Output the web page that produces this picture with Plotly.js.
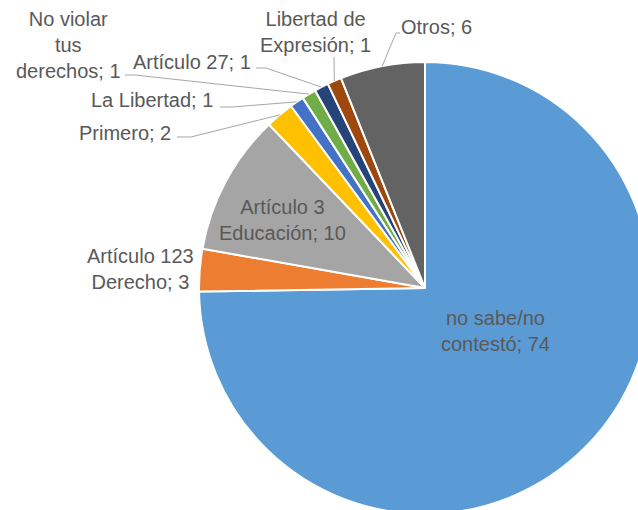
<!DOCTYPE html>
<html>
<head>
<meta charset="utf-8">
<script src="https://cdn.plot.ly/plotly-3.0.1.min.js"></script>
<style>
html,body{margin:0;padding:0;overflow:hidden;background:#fff;width:638px;height:510px;}
#chart{width:700px;height:560px;}
</style>
</head>
<body>
<div id="chart"></div>
<script>
// ---- data ----
const labels = ['no sabe/no contestó','Artículo 123 Derecho','Artículo 3 Educación','Primero','La Libertad','No violar tus derechos','Artículo 27','Libertad de Expresión','Otros'];
const values = [74, 3, 10, 2, 1, 1, 1, 1, 6];
const labelLines = ['no sabe/no<br>contestó','Artículo 123<br>Derecho','Artículo 3<br>Educación','Primero','La Libertad','No violar<br>tus<br>derechos','Artículo 27','Libertad de<br>Expresión','Otros'];
const colors = ['#5B9BD5','#ED7D31','#A5A5A5','#FFC000','#4472C4','#70AD47','#264478','#9E480E','#636363'];

// ---- layout config (pixels in the 700x560 frame) ----
const W = 700, H = 560;
const pieBox = {left:199, right:651, top:62, bottom:514};
// label centre positions
const labelPos = [[496,331],[140,269],[282,220],[125,133],[152,100],[68,45],[192,62],[315,32],[436,27]];
// leader line start points (null = no leader)
const leaderStart = [null, null, null, [[177,137],[191,137]], [[220,107],[232,107]], [[125,75],[135,75]], [[256,68],[266,68]], [[334,57]], [[400,33],[396,33]]];

const cx = (pieBox.left+pieBox.right)/2, cy = (pieBox.top+pieBox.bottom)/2;
const R = Math.min(pieBox.right-pieBox.left, pieBox.bottom-pieBox.top)/2;
const total = values.reduce((a,b)=>a+b,0);
const px = x => x / W, py = y => 1 - y / H;

const annotations = [];
const shapes = [];
let cum = 0;
values.forEach((v,i)=>{
  const mid = (cum + v/2) / total * 2*Math.PI; // clockwise from top
  cum += v;
  const tip = [cx + R*Math.sin(mid), cy - R*Math.cos(mid)];
  annotations.push({
    x: px(labelPos[i][0]), y: py(labelPos[i][1]), xref:'paper', yref:'paper',
    xanchor:'center', yanchor:'middle', align:'center', showarrow:false,
    text: labelLines[i] + '; ' + v,
    font:{family:'Liberation Sans, Arial, sans-serif', size:20, color:'#595959'}
  });
  if (leaderStart[i]) {
    const pts = leaderStart[i].concat([tip]);
    const path = pts.map((p,k)=>(k?'L':'M')+px(p[0]).toFixed(5)+','+py(p[1]).toFixed(5)).join(' ');
    shapes.push({type:'path', xref:'paper', yref:'paper', path:path, line:{color:'#A6A6A6', width:1}});
  }
});

const trace = {
  type:'pie', labels:labels, values:values, sort:false, direction:'clockwise', rotation:0,
  marker:{colors:colors, line:{color:'#ffffff', width:2}},
  textinfo:'none', hoverinfo:'skip',
  domain:{x:[px(pieBox.left), px(pieBox.right)], y:[py(pieBox.bottom), py(pieBox.top)]}
};

const layout = {
  width:W, height:H, margin:{l:0,r:0,t:0,b:0},
  showlegend:false, paper_bgcolor:'#ffffff',
  annotations:annotations, shapes:shapes
};
Plotly.newPlot('chart',[trace],layout,{displayModeBar:false, staticPlot:true});
</script>
</body>
</html>
